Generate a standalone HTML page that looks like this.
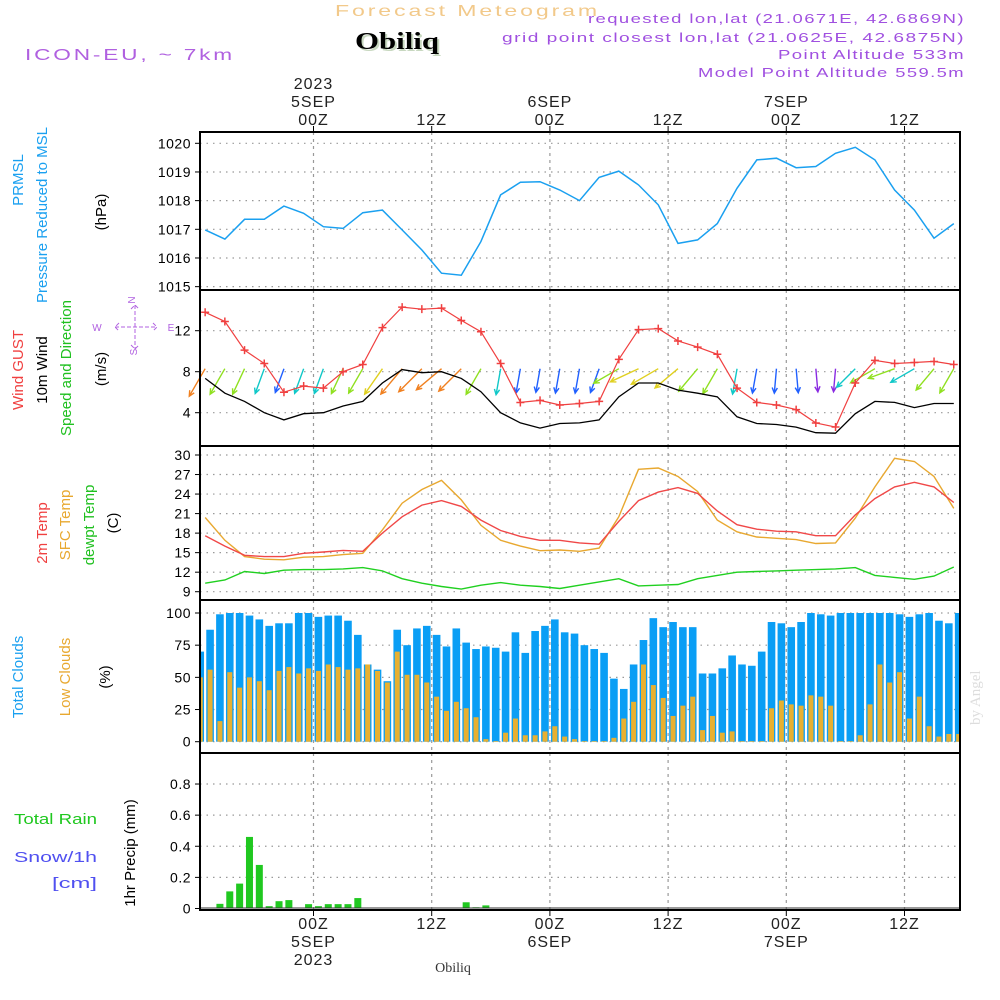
<!DOCTYPE html>
<html><head><meta charset="utf-8"><style>
body{margin:0;background:#fff;}
svg{display:block;font-family:"Liberation Sans",sans-serif;}
</style></head><body>
<svg id="c" width="1000" height="1000" viewBox="0 0 1000 1000">
<text x="335" y="16" font-size="16" fill="#f2c98a" letter-spacing="2" textLength="265" lengthAdjust="spacingAndGlyphs">Forecast Meteogram</text>
<text x="357" y="51" font-size="24" font-weight="bold" font-family="Liberation Serif,serif" fill="#c8d8c0" textLength="84" lengthAdjust="spacingAndGlyphs">Obiliq</text>
<text x="355" y="49" font-size="24" font-weight="bold" font-family="Liberation Serif,serif" fill="#000" textLength="84" lengthAdjust="spacingAndGlyphs">Obiliq</text>
<text x="25" y="60" font-size="16" fill="#b060e0" letter-spacing="2" textLength="210" lengthAdjust="spacingAndGlyphs">ICON-EU, ~ 7km</text>
<g font-size="13" fill="#a050e0" letter-spacing="1">
<text x="588" y="23" textLength="377" lengthAdjust="spacingAndGlyphs">requested lon,lat (21.0671E, 42.6869N)</text>
<text x="502" y="42" textLength="463" lengthAdjust="spacingAndGlyphs">grid point closest lon,lat (21.0625E, 42.6875N)</text>
<text x="778" y="59" textLength="187" lengthAdjust="spacingAndGlyphs">Point Altitude 533m</text>
<text x="698" y="77" textLength="267" lengthAdjust="spacingAndGlyphs">Model Point Altitude 559.5m</text>
</g>
<g id="axes"></g>
<text transform="translate(980,725) rotate(-90)" font-size="15" font-family="Liberation Serif,serif" fill="#ddd">by Angel</text>
<text x="453" y="972" font-size="14" font-family="Liberation Serif,serif" fill="#333" text-anchor="middle">Obiliq</text>
</svg>
<script>
// ---- data ----
const lineHours = [-11,-9,-7,-5,-3,-1,1,3,5,7,9,11,13,15,17,19,21,23,25,27,29,31,33,35,37,39,41,43,45,47,49,51,53,55,57,59,61,63,65];
const pressure = [1016.98,1016.66,1017.35,1017.35,1017.81,1017.56,1017.09,1017.03,1017.58,1017.67,1016.98,1016.28,1015.47,1015.4,1016.57,1018.2,1018.64,1018.66,1018.37,1018.0,1018.81,1019.03,1018.55,1017.85,1016.51,1016.63,1017.2,1018.43,1019.42,1019.48,1019.15,1019.19,1019.65,1019.86,1019.42,1018.37,1017.67,1016.69,1017.2];
const gust = [13.8,12.9,10.1,8.8,6.0,6.6,6.4,8.0,8.7,12.3,14.3,14.1,14.2,13.0,11.9,8.8,5.0,5.2,4.75,4.9,5.1,9.2,12.1,12.2,11.0,10.4,9.7,6.4,5.0,4.75,4.3,3.0,2.6,6.9,9.1,8.8,8.9,9.0,8.7];
const wind10m = [7.35,5.9,5.1,4.0,3.3,3.9,4.0,4.65,5.1,6.9,8.2,7.9,8.0,7.35,6.05,4.0,3.0,2.5,2.95,3.0,3.3,5.55,6.9,6.9,6.2,5.9,5.55,3.6,2.95,2.85,2.6,2.05,2.0,3.9,5.1,5.0,4.5,4.9,4.9];
const windDir = [30,30,25,20,20,20,20,25,30,35,40,45,50,45,30,10,10,10,10,10,20,60,65,60,50,40,30,10,10,5,355,355,5,45,60,70,60,40,30];
const temp2m = [17.6,16.0,14.6,14.4,14.4,14.9,15.1,15.35,15.2,18,20.5,22.3,23.0,22.1,20,18.4,17.5,16.9,16.9,16.5,16.3,19.8,23,24.3,25,24.1,21.4,19.3,18.6,18.3,18.2,17.6,17.6,20.8,23.3,25.1,25.8,25.1,22.7];
const tempSfc = [20.4,16.9,14.4,14.0,13.9,14.3,14.4,14.7,14.9,18.5,22.6,24.7,26.1,23.1,19.2,16.9,16,15.3,15.4,15.2,15.7,20.5,27.8,28.0,26.7,24.4,20,18.2,17.4,17.2,17.0,16.4,16.5,20.3,25.1,29.5,29,26.7,21.8];
const dewpt = [10.3,10.8,12.1,11.8,12.3,12.4,12.4,12.5,12.7,12.2,11.0,10.3,9.8,9.4,10.0,10.4,10.0,9.8,9.5,10.0,10.5,11.0,9.9,10.0,10.1,11.0,11.5,12.0,12.1,12.2,12.3,12.4,12.5,12.7,11.5,11.2,10.9,11.4,12.8];
const barStartHour = -11.5;
const totalClouds = [70,87,99,100,100,98,95,90,92,92,100,100,97,98,98,94,83,60,56,47,87,75,88,90,83,74,88,77,72,74,73,70,85,69,86,90,95,85,84,75,72,69,49,41,60,79,96,89,93,89,89,53,53,57,67,60,59,70,93,92,89,93,100,99,98,100,100,100,100,100,100,99,97,99,100,94,92,100];
const lowClouds = [50,56,16,54,42,50,47,40,55,58,53,57,55,60,58,56,57,60,55,46,70,52,52,46,35,24,31,26,19,2,0.5,7,18,5,5,8,12,4,2,0.5,0.5,0.5,3,18,31,60,44,34,20,28,35,9,20,7,8,0.5,0.5,0.5,26,32,29,28,36,35,28,0.5,0.5,5,29,60,46,54,18,35,12,4,6,6];
const precip = [0,0,0.03,0.11,0.16,0.46,0.28,0.015,0.047,0.054,0,0.028,0.015,0.028,0.028,0.028,0.067,0,0,0,0,0,0,0,0,0,0,0.04,0.008,0.02,0,0,0,0,0,0,0,0,0,0,0,0,0,0,0,0,0,0,0,0,0,0,0,0,0,0,0,0,0,0,0,0,0,0,0,0,0,0,0,0,0,0,0,0,0,0,0,0];
const pressTicks = [1015,1016,1017,1018,1019,1020];
const windTicks = [4,8,12];
const tempTicks = [9,12,15,18,21,24,27,30];
const cloudTicks = [0,25,50,75,100];
const precipTicks = [0,0.2,0.4,0.6,0.8];
const timeTicks = [0,12,24,36,48,60];
const topLabels = [["2023","5SEP","00Z"],["","","12Z"],["","6SEP","00Z"],["","","12Z"],["","7SEP","00Z"],["","","12Z"]];
const botLabels = [["00Z","5SEP","2023"],["12Z","",""],["00Z","6SEP",""],["12Z","",""],["00Z","7SEP",""],["12Z","",""]];

// ---- scales ----
const L=200,R=960;
const xT = t => 313.5 + t*9.85;
const yP = v => 143.3 + (1020-v)*28.67;
const yW = v => 371.7 - (v-8)*10.25;
const yT = v => 455 + (30-v)*6.51;
const yC = v => 741.7 - v*1.287;
const yR = v => 908.5 - v*155.6;
const NS='http://www.w3.org/2000/svg';
const root=document.getElementById('axes');
function mk(tag,attrs,parent){const e=document.createElementNS(NS,tag);for(const k in attrs)e.setAttribute(k,attrs[k]);(parent||root).appendChild(e);return e;}
function txt(x,y,s,attrs,parent){const e=mk('text',Object.assign({x:x,y:y},attrs),parent);e.textContent=s;return e;}

const panels=[
 {name:'pressure',top:132,bot:290,ticks:pressTicks,y:yP,fmt:v=>String(v)},
 {name:'wind',top:290,bot:446,ticks:windTicks,y:yW,fmt:v=>String(v)},
 {name:'temperature',top:446,bot:600,ticks:tempTicks,y:yT,fmt:v=>String(v)},
 {name:'clouds',top:600,bot:753,ticks:cloudTicks,y:yC,fmt:v=>String(v)},
 {name:'precip',top:753,bot:910,ticks:precipTicks,y:yR,fmt:v=>v===0?'0':String(v)}
];
panels.forEach(p=>{
  const g=mk('g',{});
  
  
  p.ticks.forEach(v=>{
    const y=p.y(v);
    if(y>p.top+3 && y<p.bot-3) mk('line',{x1:L,x2:R,y1:y,y2:y,stroke:'#999','stroke-width':1.2,'stroke-dasharray':'1.5,5'},g);
    mk('line',{x1:L-5,x2:L,y1:y,y2:y,stroke:'#000','stroke-width':1},g);
    const t=txt(L-9,y+5,p.fmt(v),{'font-size':14,'text-anchor':'end',fill:'#000','letter-spacing':'0.5'},g);
    
    
  });
  timeTicks.forEach(h=>{
    const x=xT(h);
    mk('line',{x1:x,x2:x,y1:p.top,y2:p.bot,stroke:'#999','stroke-width':1.2,'stroke-dasharray':'3,4'},g);
  });
  p.g=g;
});
// time labels
timeTicks.forEach((h,i)=>{
  const x=xT(h);
  mk('line',{x1:x,x2:x,y1:126,y2:132,stroke:'#000'});
  mk('line',{x1:x,x2:x,y1:910,y2:916,stroke:'#000'});
  topLabels[i].forEach((s,j)=>{ if(s){const t=txt(x,89+j*18,s,{'font-size':16,'text-anchor':'middle',fill:'#222','letter-spacing':'1'});
    
    }});
  botLabels[i].forEach((s,j)=>{ if(s){const t=txt(x,929+j*18,s,{'font-size':16,'text-anchor':'middle',fill:'#222','letter-spacing':'1'});
    
    }});
});

function polyline(arrX,arrY,color,name,parent,w){
  const pts=arrX.map((t,i)=>xT(t).toFixed(1)+','+arrY[i].toFixed(1)).join(' ');
  const e=mk('polyline',{points:pts,fill:'none',stroke:color,'stroke-width':w||1.3},parent);
  
  
  return e;
}
// pressure
polyline(lineHours,pressure.map(yP),'#1aa0f0','pressure-line',panels[0].g,1.5);
// wind arrows
function windColor(s){return s<2.5?'#8a2be2':s<3.6?'#2060ff':s<4.6?'#10c8c8':s<6.2?'#90e020':s<7.2?'#e0d020':'#f08020';}
const wg=mk('g',{},panels[1].g);


lineHours.forEach((t,i)=>{
  const s=wind10m[i], d=(windDir[i]+180)*Math.PI/180;
  const len=20+s*1.6;
  const x0=xT(t), y0=yW(8)-3;
  const x1=x0+Math.sin(d)*len, y1=y0-Math.cos(d)*len;
  const c=windColor(s);
  const a=Math.atan2(y1-y0,x1-x0);
  const ah=6;
  const p1=[x1-ah*Math.cos(a-0.45),y1-ah*Math.sin(a-0.45)], p2=[x1-ah*Math.cos(a+0.45),y1-ah*Math.sin(a+0.45)];
  const e=mk('path',{d:`M${x0},${y0}L${x1},${y1}M${p1[0]},${p1[1]}L${x1},${y1}L${p2[0]},${p2[1]}`,stroke:c,'stroke-width':1.4,fill:'none'},wg);
  
  
});
polyline(lineHours,wind10m.map(yW),'#000','wind-10m-line',panels[1].g,1.3);
polyline(lineHours,gust.map(yW),'#f04040','wind-gust-line',panels[1].g,1.2);
lineHours.forEach((t,i)=>{
  const x=xT(t),y=yW(gust[i]);
  const e=mk('path',{d:`M${x-4},${y}H${x+4}M${x},${y-4}V${y+4}`,stroke:'#f04040','stroke-width':1.5},panels[1].g);
  
  
});
// temps
polyline(lineHours,dewpt.map(yT),'#20d020','dewpoint-line',panels[2].g,1.4);
polyline(lineHours,tempSfc.map(yT),'#e8a830','sfc-temp-line',panels[2].g,1.4);
polyline(lineHours,temp2m.map(yT),'#f04848','temp-2m-line',panels[2].g,1.4);
// clouds
totalClouds.forEach((v,i)=>{
  const xc=xT(barStartHour+i);
  const x0=Math.max(L,xc-3.8), x1=Math.min(R,xc+3.8);
  if(x1<=x0) return;
  const b=mk('rect',{x:x0,y:yC(v),width:x1-x0,height:yC(0)-yC(v),fill:'#0a9ef5'},panels[3].g);
  
  
});
lowClouds.forEach((v,i)=>{
  const xc=xT(barStartHour+i);
  const x0=Math.max(L,xc-2.5), x1=Math.min(R,xc+2.5);
  if(x1<=x0) return;
  const b=mk('rect',{x:x0,y:yC(v),width:x1-x0,height:yC(0)-yC(v),fill:'#e8b030'},panels[3].g);
  
  
});
// precip
precip.forEach((v,i)=>{
  if(v<=0) return;
  const xc=xT(barStartHour+i);
  const b=mk('rect',{x:xc-3.5,y:yR(v),width:7,height:yR(0)-yR(v),fill:'#20c820'},panels[4].g);
  
  
});
mk('line',{x1:L,x2:R,y1:yR(0)-0.5,y2:yR(0)-0.5,stroke:'#333','stroke-width':1});
// frames
panels.forEach(p=>{
  const r=mk('rect',{x:L,y:p.top,width:R-L,height:p.bot-p.top,fill:'none',stroke:'#000','stroke-width':2});
  
  
});

// y-axis titles (rotated)
function vlab(x,y,parts,name,size){
  const t=mk('text',{transform:`translate(${x},${y}) rotate(-90)`,'font-size':size||15,'text-anchor':'middle'});
  
  
  parts.forEach(([s,c])=>{const ts=mk('tspan',{fill:c},t);ts.textContent=s;});
}
vlab(23,180,[['PRMSL','#1aa0f0']],'pressure-title-1');
vlab(47,215,[['Pressure Reduced to MSL','#1aa0f0']],'pressure-title-2');
vlab(106,212,[['(hPa)','#000']],'pressure-unit');
vlab(23,370,[['Wind ','#f04040'],['GUST','#f04040']],'gust-title');
vlab(47,370,[['10m Wind','#000']],'wind-title');
vlab(71,368,[['Speed and Direction','#20c020']],'wind-title-2');
vlab(106,369,[['(m/s)','#000']],'wind-unit');
vlab(47,533,[['2m Temp','#f04040']],'temp2m-title');
vlab(70,525,[['SFC Temp','#e8a830']],'sfc-temp-title');
vlab(94,525,[['dewpt Temp','#20c020']],'dewpt-title');
vlab(118,523,[['(C)','#000']],'temp-unit');
vlab(23,677,[['Total Clouds','#1aa0f0']],'total-clouds-title');
vlab(70,677,[['Low Clouds','#e8a830']],'low-clouds-title');
vlab(110,677,[['(%)','#000']],'clouds-unit');
vlab(135,853,[['1hr Precip (mm)','#000']],'precip-title');
txt(14,824,'Total  Rain',{'font-size':15,fill:'#20c820',textLength:83,lengthAdjust:'spacingAndGlyphs','xml:space':'preserve'});
txt(14,862,'Snow/1h',{'font-size':15,fill:'#5050f0',textLength:83,lengthAdjust:'spacingAndGlyphs'});
txt(52,888,'[cm]',{'font-size':15,fill:'#5050f0',textLength:45,lengthAdjust:'spacingAndGlyphs'});
// compass
const cg=mk('g',{fill:'#b060e0','font-size':10,'text-anchor':'middle'});


txt(97,331,'W',{},cg);txt(171,331,'E',{},cg);
txt(135,300,'N',{transform:'rotate(-90 135 300)'},cg);
txt(137,352,'S',{transform:'rotate(-90 137 352)'},cg);
mk('path',{d:'M115,327H157M135,305V349M119,323L115,327L119,331M153,323L157,327L153,331M131,309L135,305L139,309M131,345L135,349L139,345',stroke:'#b060e0','stroke-width':1,fill:'none','stroke-dasharray':'4,2'},cg);
</script>
</body></html>
